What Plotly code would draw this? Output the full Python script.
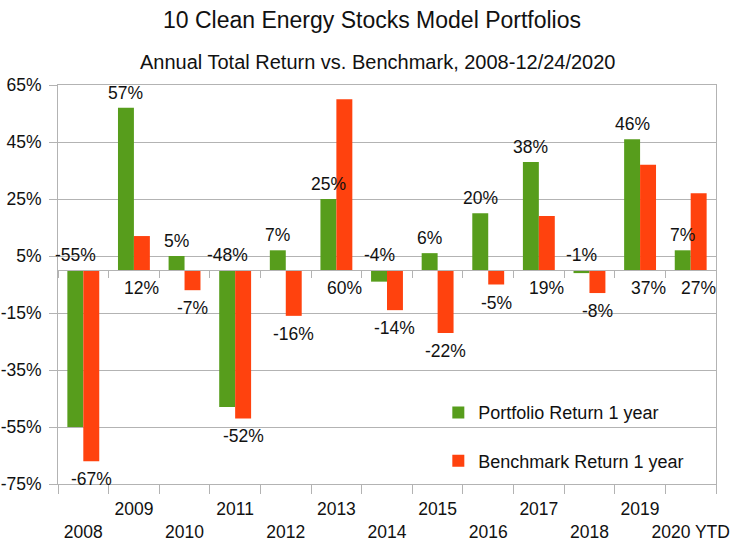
import plotly.graph_objects as go

years = ['2008', '2009', '2010', '2011', '2012', '2013', '2014',
         '2015', '2016', '2017', '2018', '2019', '2020 YTD']
portfolio = [-55, 57, 5, -48, 7, 25, -4, 6, 20, 38, -1, 46, 7]
benchmark = [-67, 12, -7, -52, -16, 60, -14, -22, -5, 19, -8, 37, 27]
y_ticks = [-75, -55, -35, -15, 5, 25, 45, 65]

GREEN = '#579D1C'
ORANGE = '#FF420E'
GRID = '#b3b3b3'
FONT = 'Liberation Sans, Arial, sans-serif'
BARGAP = 0.37
half = (1 - BARGAP) / 4

fig = go.Figure()
fig.add_trace(go.Bar(x=years, y=portfolio, name='Portfolio Return 1 year',
                     marker=dict(color=GREEN, line=dict(width=0)),
                     legendgroup='a', hoverinfo='skip'))
fig.add_trace(go.Bar(x=years, y=benchmark, name='Benchmark Return 1 year',
                     marker=dict(color=ORANGE, line=dict(width=0)),
                     legendgroup='b', hoverinfo='skip'))
# invisible trace to anchor the zero-crossing category axis
fig.add_trace(go.Scatter(x=[-0.5, 12.5], y=[0, 0], xaxis='x2', mode='lines',
                         line=dict(width=0), showlegend=False, hoverinfo='skip'))

annotations = []
for i, (p, b) in enumerate(zip(portfolio, benchmark)):
    annotations.append(dict(x=i - half, y=max(p, 0), xref='x', yref='y',
                            text=f'{p}%', showarrow=False, yanchor='middle',
                            yshift=15, font=dict(size=17.5, color='#111')))
    annotations.append(dict(x=i + half, y=min(b, 0), xref='x', yref='y',
                            text=f'{b}%', showarrow=False, yanchor='middle',
                            yshift=-18, font=dict(size=17.5, color='#111')))

annotations.append(dict(text='Annual Total Return vs. Benchmark, 2008-12/24/2020',
                        xref='paper', yref='paper', x=0.4863, y=1.0576,
                        xanchor='center', yanchor='middle', showarrow=False,
                        font=dict(size=20, color='#111')))

ticktext = [y if i % 2 == 1 else '<br>' + y for i, y in enumerate(years)]

fig.update_layout(
    width=733, height=551,
    margin=dict(l=58, r=17, t=85, b=67, autoexpand=False),
    paper_bgcolor='white', plot_bgcolor='white',
    font=dict(family=FONT, size=17.5, color='#111'),
    title=dict(text='10 Clean Energy Stocks Model Portfolios',
               xref='container', x=372 / 733, xanchor='center',
               yref='container', y=1 - 20 / 551, yanchor='middle',
               font=dict(size=23, color='#111')),
    barmode='group', bargap=BARGAP, bargroupgap=0,
    showlegend=True,
    legend=dict(x=0.578, y=0.225, xanchor='left', yanchor='top',
                bgcolor='rgba(0,0,0,0)', font=dict(size=18, color='#111'),
                traceorder='grouped', tracegroupgap=22),
    xaxis=dict(type='category', categoryorder='array', categoryarray=years,
               tickmode='array', tickvals=years, ticktext=ticktext,
               tickangle=0, automargin=False, ticklabelstandoff=9,
               tickson='boundaries', ticks='outside', ticklen=9,
               tickcolor=GRID, showline=True, linecolor=GRID, mirror=True,
               showgrid=False, range=[-0.5, 12.5],
               tickfont=dict(size=17.5, color='#111')),
    xaxis2=dict(overlaying='x', anchor='free', position=75 / 140,
                range=[-0.5, 12.5], tick0=0.5, dtick=1, ticks='outside',
                ticklen=7, tickcolor=GRID, showline=True, linecolor=GRID,
                showticklabels=False, showgrid=False, zeroline=False,
                automargin=False),
    yaxis=dict(range=[-75, 65], tickmode='array', tickvals=y_ticks,
               ticktext=[f'{v}%' for v in y_ticks], ticks='outside',
               ticklen=8, tickcolor=GRID, showgrid=True, gridcolor=GRID,
               showline=True, linecolor=GRID, mirror=True, zeroline=False,
               automargin=False, ticklabelstandoff=4,
               tickfont=dict(size=17.5, color='#111')),
    annotations=annotations,
)

fig.write_html('out.html',
               config={'displayModeBar': False},
               post_script="document.body.style.margin='0';"
                           "document.body.style.padding='0';")
